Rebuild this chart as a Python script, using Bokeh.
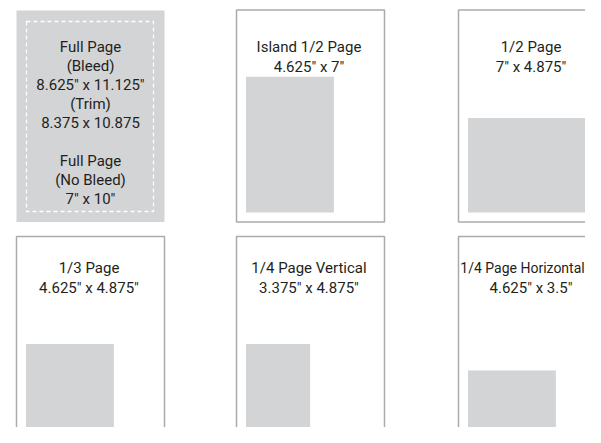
from bokeh.plotting import figure
from bokeh.models import Range1d, ColumnDataSource
from bokeh.core.properties import value
from bokeh.embed import file_html
from bokeh.resources import INLINE

# ---- data ----
titles = ["Full Page", "Island 1/2 Page", "1/2 Page", "1/3 Page",
          "1/4 Page Vertical", "1/4 Page Horizontal"]
size_labels = ['8.625" x 11.125"', '4.625" x 7"', '7" x 4.875"',
               '4.625" x 4.875"', '3.375" x 4.875"', '4.625" x 3.5"']
ad_w_in = [8.375, 4.625, 7.0, 4.625, 3.375, 4.625]
ad_h_in = [10.875, 7.0, 4.875, 4.875, 4.875, 3.5]
full_page_lines = ["Full Page", "(Bleed)", '8.625" x 11.125"', "(Trim)",
                   "8.375 x 10.875", "", "Full Page", "(No Bleed)", '7" x 10"']

# ---- layout / style ----
W, H = 585, 427
col_x = [16, 236, 458]
row_top = [9.5, 236]
PANEL_W, PANEL_H = 148, 212
PX_X, PX_Y = 19.0, 19.4
BOX_COLOR = "#d3d4d6"
EDGE_COLOR = "#ababab"
TEXT_COLOR = "#231f20"
FONT = "Roboto"

p = figure(width=W, height=H, output_backend="svg", toolbar_location=None,
           x_range=Range1d(0, W), y_range=Range1d(H, 0),
           min_border=0, outline_line_color=None, background_fill_color="white")
p.xaxis.visible = False
p.yaxis.visible = False
p.grid.visible = False

panels = []
for i in range(6):
    r, c = divmod(i, 3)
    panels.append((col_x[c], row_top[r]))

# panel 0: full page bleed block
x0, y0 = panels[0]
p.quad(left=[x0], right=[x0 + PANEL_W], top=[y0 + 0.5], bottom=[y0 + PANEL_H],
       fill_color=BOX_COLOR, line_color=None)
p.quad(left=[x0 + 10], right=[x0 + 137], top=[y0 + 11.5], bottom=[y0 + 201.5],
       fill_color=None, line_color="white", line_width=1.3, line_dash="4 3")

# other panels: outline + ad box
ol, orr, ot, ob = [], [], [], []
bl, br, bt, bb = [], [], [], []
for i in range(1, 6):
    x, y = panels[i]
    ol.append(x); orr.append(x + PANEL_W); ot.append(y); ob.append(y + PANEL_H)
    bottom = (y + PANEL_H - 9.5) if y < 100 else 438
    left = x + 9.5
    bl.append(left); br.append(left + ad_w_in[i] * PX_X)
    bb.append(bottom); bt.append(bottom - ad_h_in[i] * PX_Y)

p.quad(left=ol, right=orr, top=ot, bottom=ob, fill_color="white",
       line_color=EDGE_COLOR, line_width=1.5)
p.quad(left=bl, right=br, top=bt, bottom=bb, fill_color=BOX_COLOR, line_color=None)

# texts
tx, ty, tt, ts = [], [], [], []
cx0 = x0 + PANEL_W / 2
for k, line in enumerate(full_page_lines):
    if line:
        tx.append(cx0); ty.append(46 + 19 * k); tt.append(line); ts.append("15px")
for i in range(1, 6):
    x, y = panels[i]
    base = 46 if y < 100 else 267.5
    cx = x + PANEL_W / 2 - 1.5
    tcx, tsz = cx, "15px"
    if x + PANEL_W > W and len(titles[i]) > 16:   # keep long title inside canvas
        tcx, tsz = W - 63, "14px"
    tx += [tcx, cx]; ty += [base, base + 20]
    tt += [titles[i], size_labels[i]]; ts += [tsz, "15px"]

src = ColumnDataSource(dict(x=tx, y=ty, text=tt, size=ts))
p.text(x="x", y="y", text="text", source=src, text_align="center",
       text_baseline="alphabetic", text_font=value(FONT), text_font_size="size",
       text_color=TEXT_COLOR)

open("out.html", "w").write(file_html(p, INLINE))
